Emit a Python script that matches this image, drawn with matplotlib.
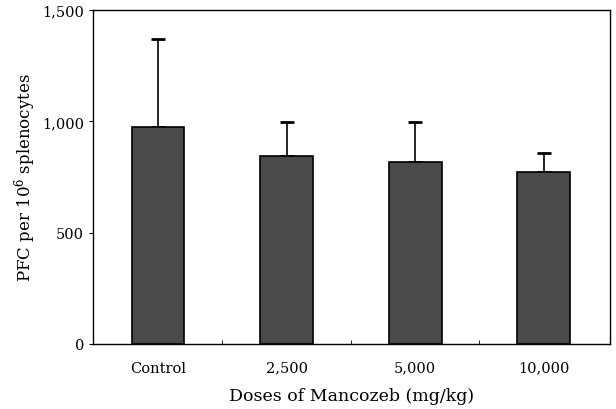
import matplotlib
matplotlib.use("Agg")
import matplotlib.pyplot as plt

# data
doses = ["Control", "2,500", "5,000", "10,000"]
pfc_mean = [974, 844, 817, 772]
pfc_sd = [396, 153, 180, 86]
yticks = [0, 500, 1000, 1500]
ytick_labels = ["0", "500", "1,000", "1,500"]

plt.rcParams['font.family'] = ['DejaVu Serif']
plt.rcParams['mathtext.fontset'] = 'dejavuserif'

fig = plt.figure(figsize=(6.16, 4.10), dpi=100)
ax = fig.add_axes([93 / 616, 1 - 345 / 410, 517 / 616, 334 / 410])

x = range(len(doses))
ax.bar(x, pfc_mean, width=0.41, color="#4a4a4a", edgecolor="black", linewidth=1.2, zorder=2)
ax.errorbar(x, pfc_mean, yerr=[[0] * len(pfc_sd), pfc_sd], fmt="none",
            ecolor="black", elinewidth=1.2, capsize=5, capthick=2, zorder=1)

ax.set_xlim(-0.505, 3.515)
ax.set_ylim(0, 1500)
ax.set_yticks(yticks)
ax.set_yticklabels(ytick_labels, fontsize=10.5)
ax.set_xticks(list(x))
ax.set_xticklabels(doses, fontsize=10.5)
ax.tick_params(axis="x", length=0, pad=12)
ax.tick_params(axis="y", direction="out", length=3)
ax.set_xticks([0.5, 1.5, 2.5], minor=True)
ax.tick_params(axis="x", which="minor", direction="in", length=3)

ax.set_xlabel("Doses of Mancozeb (mg/kg)", fontsize=12.5, labelpad=9)
ax.set_ylabel("PFC per 10$^6$ splenocytes", fontsize=12, labelpad=3)

for s in ax.spines.values():
    s.set_linewidth(1.0)

fig.savefig("out.png", dpi=100)
